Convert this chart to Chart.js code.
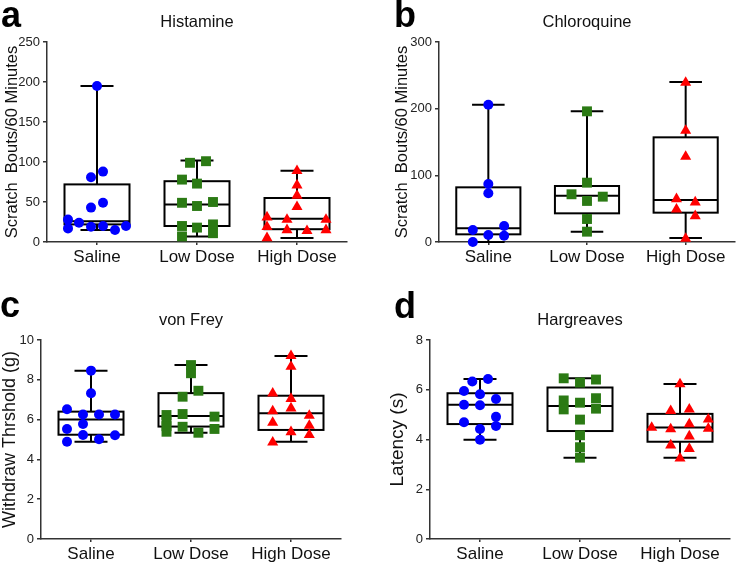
<!DOCTYPE html>
<html><head><meta charset="utf-8">
<script src="https://cdn.jsdelivr.net/npm/chart.js@4.4.1/dist/chart.umd.min.js"></script>
<style>
html,body{margin:0;padding:0;background:#fff;width:742px;height:563px;overflow:hidden;font-family:"Liberation Sans",Arial,sans-serif}
.panel{position:absolute}
.letter{position:absolute;font-weight:bold;font-size:36px;line-height:36px;color:#000}
</style></head><body>
<div class="panel" style="left:0;top:0"><canvas id="ca" width="371" height="280"></canvas></div>
<div class="panel" style="left:371px;top:0"><canvas id="cb" width="371" height="280"></canvas></div>
<div class="panel" style="left:0;top:280px"><canvas id="cc" width="371" height="283"></canvas></div>
<div class="panel" style="left:371px;top:280px"><canvas id="cd" width="371" height="283"></canvas></div>
<div class="letter" style="left:1px;top:-3px">a</div>
<div class="letter" style="left:394px;top:-3px">b</div>
<div class="letter" style="left:0px;top:287px">c</div>
<div class="letter" style="left:394px;top:288px">d</div>
<script>
const categories = ['Saline', 'Low Dose', 'High Dose'];

// ---- Panel a: Histamine ----
const histTicks = [0, 50, 100, 150, 200, 250];
const histMin = [15, 7, 5];
const histQ1 = [22, 20, 16];
const histMed = [26, 47, 29];
const histQ3 = [72, 76, 55];
const histMax = [195, 102, 89];
const histSaline = [[0,195],[-0.06,81],[0.06,88],[-0.06,43],[0.06,49],[-0.29,28],[-0.29,17],[-0.18,24],[-0.06,19],[0.06,20],[0.18,15],[0.29,20]];
const histLow = [[-0.07,99],[0.09,101],[-0.15,78],[0,73],[-0.15,49],[0,45],[0.16,50],[-0.15,20],[0,18],[0.16,22],[0.16,11],[-0.15,7]];
const histHigh = [[0,89],[0,71],[0,58],[0,44],[-0.3,31],[-0.1,28],[0.29,28],[-0.3,19],[-0.1,15],[0.1,14],[0.29,15],[-0.3,5]];

// ---- Panel b: Chloroquine ----
const chloTicks = [0, 100, 200, 300];
const chloMin = [0, 15.5, 6];
const chloQ1 = [11.5, 43, 44];
const chloMed = [20.5, 69.5, 63];
const chloQ3 = [82, 84, 157];
const chloMax = [206, 196, 240];
const chloSaline = [[0,206],[0,87],[0,73],[-0.157,18],[0.16,24],[0,10.5],[0.16,9.5],[-0.157,0]];
const chloLow = [[0,196],[0,89],[-0.157,71.6],[0.16,68],[0,61.6],[0,34.5],[0,15.5]];
const chloHigh = [[0,239],[0,167],[0,128],[-0.093,64.6],[0.097,59.6],[-0.093,49],[0.097,39],[0,5]];

// ---- Panel c: von Frey ----
const vfTicks = [0, 2, 4, 6, 8, 10];
const vfMin = [4.89, 5.34, 4.89];
const vfQ1 = [5.24, 5.65, 5.48];
const vfMed = [6.01, 6.18, 6.32];
const vfQ3 = [6.4, 7.33, 7.2];
const vfMax = [8.46, 8.74, 9.2];
const vfSaline = [[0,8.46],[0,7.32],[-0.24,6.52],[-0.08,6.26],[0.08,6.26],[0.24,6.26],[-0.24,5.53],[-0.08,5.78],[-0.08,5.23],[0.24,5.21],[-0.24,4.89],[0.08,5.01]];
const vfLow = [[0,8.74],[0,8.33],[-0.084,7.15],[0.074,7.45],[-0.245,6.23],[-0.245,5.95],[-0.245,5.67],[-0.245,5.39],[-0.084,6.28],[-0.084,5.64],[0.235,6.15],[0.074,5.34],[0.235,5.53]];
const vfHigh = [[0,9.2],[0,8.66],[-0.183,7.32],[0,7.05],[-0.183,6.43],[0,6.57],[-0.183,5.85],[0.183,6.2],[0.183,5.7],[0,5.38],[0.183,5.23],[-0.183,4.86]];

// ---- Panel d: Hargreaves ----
const hgTicks = [0, 2, 4, 6, 8];
const hgMin = [3.99, 3.27, 3.27];
const hgQ1 = [4.62, 4.34, 3.91];
const hgMed = [5.40, 5.35, 4.48];
const hgQ3 = [5.86, 6.09, 5.03];
const hgMax = [6.43, 6.46, 6.23];
const hgSaline = [[-0.077,6.33],[0.08,6.43],[-0.16,5.95],[0,5.82],[0.16,5.63],[-0.16,5.40],[0,5.38],[0.16,4.91],[-0.16,4.69],[0.16,4.54],[0,4.42],[0,3.99]];
const hgLow = [[-0.163,6.46],[0.16,6.41],[0,6.29],[-0.163,5.57],[0,5.48],[0.16,5.66],[-0.163,5.21],[0.16,5.24],[0,4.80],[0,4.17],[0,3.69],[0,3.27]];
const hgHigh = [[0,6.23],[-0.093,5.15],[0.093,5.21],[-0.283,4.48],[-0.093,4.42],[0.093,4.62],[0.283,4.81],[0.283,4.44],[0.093,4.13],[-0.093,3.77],[0.093,3.63],[0,3.24]];

const FONT = "'Liberation Sans', Arial, sans-serif";
Chart.defaults.font.family = FONT;

const groupStyles = [
  {color: '#0000FF', pointStyle: 'circle', radius: 5},
  {color: '#2B7A14', pointStyle: 'rect', radius: 7},
  {color: '#FF0000', pointStyle: 'triangle', radius: 6.4}
];

const boxPlugin = {
  id: 'boxes',
  beforeDatasetsDraw(chart, args, opts) {
    const {ctx, scales: {x, y}} = chart;
    const s = opts.stats;
    ctx.save();
    ctx.strokeStyle = '#000';
    ctx.lineWidth = 2;
    for (let i = 0; i < s.min.length; i++) {
      const cx = x.getPixelForValue(i);
      const hw = x.getPixelForValue(i + opts.boxWidth / 2) - cx;
      const cw = x.getPixelForValue(i + opts.capWidth / 2) - cx;
      const pMin = y.getPixelForValue(s.min[i]);
      const pQ1 = y.getPixelForValue(s.q1[i]);
      const pMed = y.getPixelForValue(s.med[i]);
      const pQ3 = y.getPixelForValue(s.q3[i]);
      const pMax = y.getPixelForValue(s.max[i]);
      ctx.beginPath();
      ctx.moveTo(cx, pQ3); ctx.lineTo(cx, pMax);
      ctx.moveTo(cx, pQ1); ctx.lineTo(cx, pMin);
      ctx.moveTo(cx - cw, pMax); ctx.lineTo(cx + cw, pMax);
      ctx.moveTo(cx - cw, pMin); ctx.lineTo(cx + cw, pMin);
      ctx.moveTo(cx - hw, pMed); ctx.lineTo(cx + hw, pMed);
      ctx.stroke();
      ctx.strokeRect(cx - hw, pQ3, 2 * hw, pQ1 - pQ3);
    }
    ctx.restore();
  }
};

function makePanel(id, p) {
  const datasets = p.groups.map((g, i) => ({
    data: g.map(([dx, v]) => ({x: i + dx, y: v})),
    backgroundColor: groupStyles[i].color,
    borderColor: groupStyles[i].color,
    borderWidth: 0,
    pointStyle: groupStyles[i].pointStyle,
    pointRadius: groupStyles[i].radius,
    pointHoverRadius: groupStyles[i].radius,
    clip: false
  }));
  new Chart(document.getElementById(id), {
    type: 'scatter',
    data: {datasets},
    plugins: [boxPlugin],
    options: {
      responsive: false,
      animation: false,
      devicePixelRatio: 1,
      events: [],
      layout: {padding: {left: 0, top: 0, right: p.padRight, bottom: 0}},
      plugins: {
        legend: {display: false},
        tooltip: {enabled: false},
        title: {
          display: true, text: p.title, fullSize: false, color: '#111',
          font: {size: 16.5, weight: 'normal', family: FONT, lineHeight: 1.2},
          padding: {top: p.titleTop, bottom: p.titleBottom}
        },
        boxes: {stats: p.stats, boxWidth: 0.65, capWidth: 0.33}
      },
      scales: {
        x: {
          type: 'linear', min: -0.5, max: 2.5,
          afterBuildTicks: (sc) => { sc.ticks = categories.map((c, i) => ({value: i})); },
          afterFit: (sc) => { sc.height = p.xHeight; },
          ticks: {callback: (v) => categories[v], color: '#111', padding: 2, maxRotation: 0, autoSkip: false,
                  font: {size: 17, family: FONT}},
          grid: {drawOnChartArea: false, drawTicks: true, tickLength: 3, color: '#333', lineWidth: 1.5},
          border: {display: true, color: '#333', width: 1.5}
        },
        y: {
          type: 'linear', min: p.ticks[0], max: p.ticks[p.ticks.length - 1],
          afterBuildTicks: (sc) => { sc.ticks = p.ticks.map(v => ({value: v})); },
          afterFit: (sc) => { sc.width = p.yWidth; },
          ticks: {color: '#222', padding: 3, font: {size: 13, family: FONT}},
          grid: {drawOnChartArea: false, drawTicks: true, tickLength: 4, color: '#333', lineWidth: 1.5},
          border: {display: true, color: '#333', width: 1.5},
          title: {display: true, text: p.yTitle, color: '#111', font: {size: p.yTitleSize, family: FONT, lineHeight: 1.2},
                  padding: {top: p.yTitlePad, bottom: 0}}
        }
      }
    }
  });
}

makePanel('ca', {
  title: 'Histamine', yTitle: 'Scratch  Bouts/60 Minutes', ticks: histTicks,
  stats: {min: histMin, q1: histQ1, med: histMed, q3: histQ3, max: histMax},
  groups: [histSaline, histLow, histHigh],
  padRight: 24, yWidth: 47, xHeight: 38, titleTop: 12.1, titleBottom: 10.1, yTitlePad: 2.6, yTitleSize: 16.5
});
makePanel('cb', {
  title: 'Chloroquine', yTitle: 'Scratch  Bouts/60 Minutes', ticks: chloTicks,
  stats: {min: chloMin, q1: chloQ1, med: chloMed, q3: chloQ3, max: chloMax},
  groups: [chloSaline, chloLow, chloHigh],
  padRight: 3, yWidth: 68, xHeight: 38, titleTop: 12.1, titleBottom: 10.1, yTitlePad: 22, yTitleSize: 16.5
});
makePanel('cc', {
  title: 'von Frey', yTitle: 'Withdraw Thrshold (g)', ticks: vfTicks,
  stats: {min: vfMin, q1: vfQ1, med: vfMed, q3: vfQ3, max: vfMax},
  groups: [vfSaline, vfLow, vfHigh],
  padRight: 30, yWidth: 41, xHeight: 24, titleTop: 30.1, titleBottom: 10.1, yTitlePad: -1, yTitleSize: 18
});
makePanel('cd', {
  title: 'Hargreaves', yTitle: 'Latency (s)', ticks: hgTicks,
  stats: {min: hgMin, q1: hgQ1, med: hgMed, q3: hgQ3, max: hgMax},
  groups: [hgSaline, hgLow, hgHigh],
  padRight: 12, yWidth: 59, xHeight: 24, titleTop: 30.1, titleBottom: 10.1, yTitlePad: 15, yTitleSize: 19
});
</script>
</body></html>
